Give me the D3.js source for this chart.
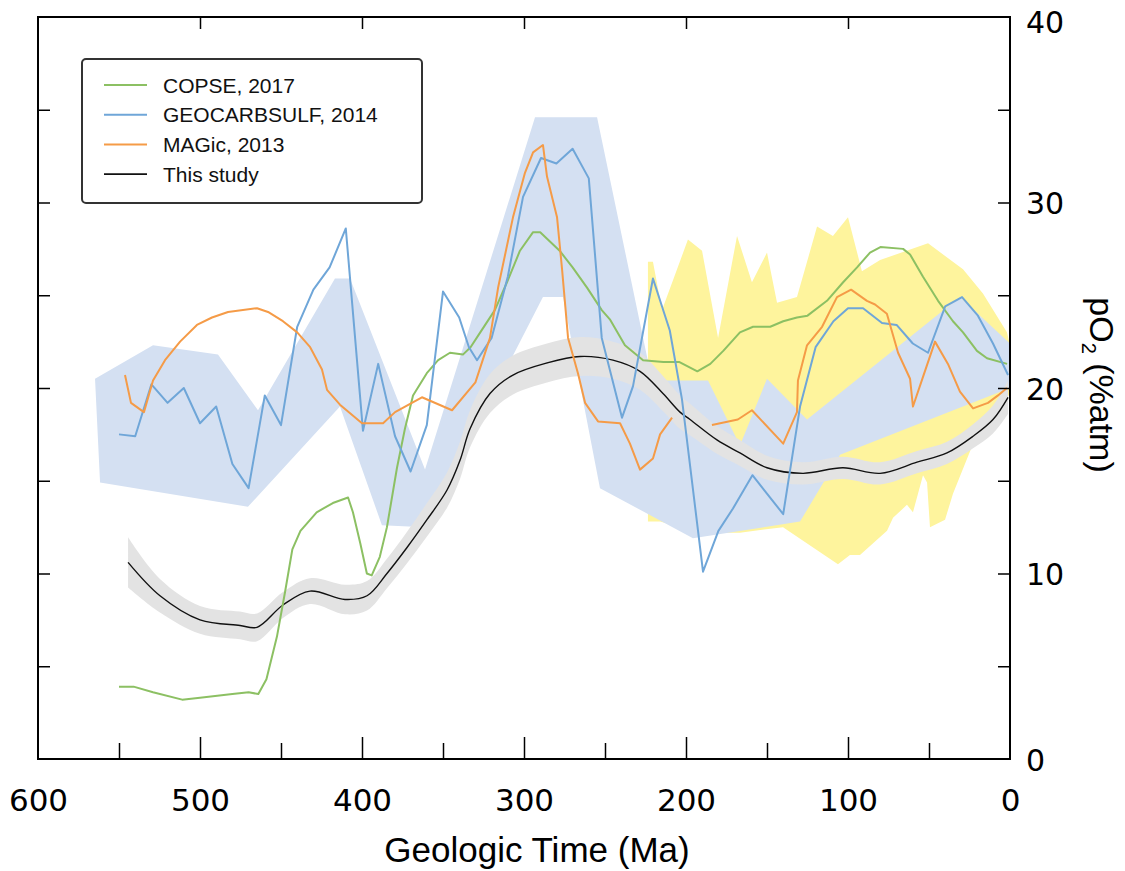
<!DOCTYPE html>
<html><head><meta charset="utf-8">
<script src="https://cdn.jsdelivr.net/npm/d3@7/dist/d3.min.js"></script>
<style>
html,body{margin:0;padding:0;background:#fff;}
svg{display:block;font-family:"Liberation Sans",Arial,Helvetica,sans-serif;}
</style></head>
<body>
<svg id="chart" width="1125" height="871"></svg>
<script>
// ---------- data (time in Ma, pO2 in %atm) ----------
const xTickLabels = [600, 500, 400, 300, 200, 100, 0];
const xMinorTicks = [550, 450, 350, 250, 150, 50];
const yTickLabels = [0, 10, 20, 30, 40];
const yMinorTicks = [5, 15, 25, 35];
const legendLabels = ["COPSE, 2017", "GEOCARBSULF, 2014", "MAGic, 2013", "This study"];

const copse = [[550,3.9],[541,3.9],[529,3.6],[511,3.2],[500,3.3],[480,3.5],[470,3.6],[464,3.5],[459,4.3],[452.5,6.6],[447.5,9.0],[443,11.3],[438,12.3],[428,13.3],[418,13.8],[408.6,14.1],[405.6,13.3],[401,11.6],[397,10.0],[394,9.9],[389,10.9],[384.6,12.5],[378.4,15.7],[373.5,17.8],[368.5,19.6],[360,20.8],[353,21.5],[345.7,21.9],[337.7,21.8],[333,22.2],[327,23.0],[318,24.2],[310.5,25.7],[302.5,27.4],[294.4,28.4],[290,28.4],[278,27.4],[270,26.5],[261,25.4],[252,24.2],[247,23.7],[237.7,22.3],[226.5,21.5],[214,21.4],[204,21.4],[193,20.9],[185,21.3],[177,22.0],[166.7,23.0],[158.6,23.3],[148,23.3],[140,23.6],[131.5,23.8],[125,23.9],[113,24.7],[103,25.7],[94.4,26.5],[86.4,27.3],[80,27.6],[66,27.5],[61.7,27.2],[53.7,26.0],[44.4,24.7],[35.2,23.6],[29,23.0],[20.4,22.0],[14.2,21.6],[1.8,21.3]];

const geocarb = [[550,17.5],[540,17.4],[530,20.2],[520,19.2],[510,20.0],[500,18.1],[490,19.0],[480,15.9],[470,14.6],[460,19.6],[450,18.0],[440,23.3],[430,25.3],[420,26.5],[410,28.6],[399.4,17.7],[390,21.3],[379.6,17.4],[370,15.5],[360,18.0],[350,25.2],[340,23.8],[334,22.2],[329,21.5],[320,22.7],[310,26.0],[300.6,30.3],[289.5,32.4],[280,32.1],[270,32.9],[260,31.3],[252,22.7],[239.5,18.4],[232.7,20.1],[220.4,25.9],[210,23.1],[202.5,19.4],[189.5,10.1],[180,12.3],[171,13.5],[159,15.3],[140,13.2],[129.6,19.0],[120,22.2],[109,23.6],[100,24.3],[90.7,24.3],[79,23.5],[70,23.4],[60,22.4],[50.6,21.9],[40,24.4],[29.6,24.9],[19.8,23.9],[10.5,22.4],[1.2,20.7]];

const magic = [[546.3,20.7],[542.6,19.2],[534.6,18.7],[529,20.4],[521.6,21.5],[512.3,22.5],[501.9,23.4],[492.6,23.8],[482.7,24.1],[464.8,24.3],[458,24.1],[448.8,23.6],[440,23.0],[432,22.2],[424.7,21.0],[421.6,19.9],[413.6,19.1],[400,18.1],[387,18.1],[379.6,18.7],[363,19.5],[344.4,18.8],[330,20.3],[321,22.7],[316,25.4],[306.8,29.2],[299.4,31.6],[294.4,32.7],[288.3,33.1],[285.8,31.4],[279.6,29.2],[276.5,26.4],[272.8,22.7],[266.7,20.8],[262.3,19.2],[254.3,18.2],[240.7,18.1],[234.6,17.0],[228.4,15.6],[220.4,16.2],[216,17.5],[208.6,18.4],[null,null],[184,18.0],[168,18.3],[159.3,18.8],[140,17.0],[131.5,18.7],[130.9,20.4],[125.3,22.3],[116,23.3],[106.8,24.9],[98.1,25.3],[88.3,24.7],[83.3,24.5],[76,24.0],[69.1,21.9],[61.7,20.5],[59.9,19.0],[53.7,20.6],[46.3,22.5],[38.3,21.3],[30.9,19.8],[22.8,18.9],[13.6,19.2],[7.4,19.6],[1.9,20.0]];

// This study: [time, pO2, half-width of uncertainty]
const study = [[544.4,10.6,1.35],[524.7,8.8,0.9],[500,7.5,0.75],[475.3,7.2,0.75],[464.8,7.1,0.75],[448.8,8.3,0.7],[432.1,9.05,0.7],[410.5,8.6,0.8],[396.9,8.8,0.8],[384.6,10.0,0.8],[372.2,11.4,0.85],[359.9,12.9,0.9],[347.5,14.5,0.95],[339.5,16.1,1.0],[333.3,17.8,1.0],[321,19.7,1.05],[306.8,20.7,1.05],[285.8,21.35,1.05],[265.4,21.7,1.05],[245.1,21.5,1.0],[228.4,20.9,1.0],[214.2,19.7,0.95],[203.7,18.7,0.9],[197.5,18.3,0.85],[180.9,17.2,0.75],[166.7,16.5,0.7],[150,15.7,0.65],[127.8,15.4,0.6],[103.1,15.7,0.6],[80.2,15.4,0.6],[57.4,16.0,0.6],[38.9,16.5,0.6],[22.8,17.4,0.65],[10.5,18.3,0.75],[1.2,19.5,0.9]];

// GEOCARBSULF uncertainty envelope (outline vertices)
const geocarbBand = [[564.8,20.5],[529,22.3],[488.9,21.8],[464.2,18.8],[416.7,25.9],[407.4,25.9],[361.1,15.6],[293.2,34.6],[254.9,34.6],[221,20.4],[186.4,20.4],[166.7,16.9],[150,20.5],[125.3,18.3],[30.9,24.9],[0,22.4],[0,20.0],[104.9,16.4],[129.6,12.8],[195.7,11.9],[253.1,14.6],[275.9,24.9],[288.3,24.9],[361.1,12.5],[387.7,12.6],[413.6,19.0],[470.4,13.6],[561.7,14.9]];

// MAGic uncertainty envelope (outline vertices)
const magicBand = [[223.5,26.8],[220.4,26.8],[214.8,24.2],[198.8,28.0],[190.1,27.4],[180.2,22.7],[168.5,28.2],[159.3,25.7],[150,27.3],[143.8,24.6],[131.5,24.9],[119.1,28.7],[109.3,28.2],[100,29.2],[91.4,26.3],[80.2,26.9],[50.6,27.8],[29,26.4],[16.7,25.1],[1.9,23.0],[0,22.3],[0,19.7],[22.8,17.0],[35.2,14.3],[40.1,12.9],[49.4,12.5],[51.2,14.9],[53.7,15.3],[59.9,13.3],[63.6,13.7],[72.2,13.0],[75.9,12.3],[92.6,11.0],[98.8,11.0],[106.2,10.5],[140.1,12.5],[166.7,12.2],[191.4,12.2],[216,12.8],[223.5,12.8]];

// ---------- drawing ----------
const svg = d3.select("#chart");
const L = 38, R = 1010, T = 17, B = 759;
const x = d3.scaleLinear().domain([600, 0]).range([L, R]);
const y = d3.scaleLinear().domain([0, 40]).range([B, T]);

const colors = {copse: "#8cc063", geocarb: "#6fa6d8", magic: "#f59b47", study: "#111111"};
const numFont = "DejaVu Sans, Verdana, sans-serif";

const poly = d3.line().x(d => x(d[0])).y(d => y(d[1]));

svg.append("path").attr("d", poly(magicBand) + "Z").attr("fill", "#fef49d");
svg.append("path").attr("d", poly(geocarbBand) + "Z").attr("fill", "#d4e0f2");

const band = d3.area()
  .x(d => x(d[0])).y0(d => y(d[1] - d[2])).y1(d => y(d[1] + d[2]))
  .curve(d3.curveCatmullRom.alpha(0.5));
svg.append("path").attr("d", band(study)).attr("fill", "#e3e3e3");

const smooth = d3.line().x(d => x(d[0])).y(d => y(d[1])).curve(d3.curveCatmullRom.alpha(0.5));
svg.append("path").attr("d", smooth(study)).attr("fill", "none")
  .attr("stroke", colors.study).attr("stroke-width", 1.4);

const lin = d3.line().defined(d => d[0] !== null).x(d => x(d[0])).y(d => y(d[1]));
svg.append("path").attr("d", lin(copse)).attr("fill", "none").attr("stroke", colors.copse).attr("stroke-width", 2).attr("stroke-linejoin", "round");
svg.append("path").attr("d", lin(geocarb)).attr("fill", "none").attr("stroke", colors.geocarb).attr("stroke-width", 2).attr("stroke-linejoin", "round");
svg.append("path").attr("d", lin(magic)).attr("fill", "none").attr("stroke", colors.magic).attr("stroke-width", 2).attr("stroke-linejoin", "round");

// frame
svg.append("rect").attr("x", L).attr("y", T).attr("width", R - L).attr("height", B - T)
  .attr("fill", "none").attr("stroke", "#000").attr("stroke-width", 2);

// bottom axis (ticks inward)
const axBottom = svg.append("g").attr("transform", `translate(0,${B})`)
  .call(d3.axisBottom(x).tickValues(xTickLabels).tickSize(-22).tickPadding(30).tickFormat(d3.format("d")));
axBottom.select(".domain").remove();
axBottom.selectAll(".tick line").attr("stroke-width", 1.5);
axBottom.selectAll(".tick text").attr("font-size", 31).attr("font-family", numFont).attr("fill", "#000");
axBottom.selectAll(".tick").filter(d => d === 600 || d === 0).select("line").remove();
const axBottomMinor = svg.append("g").attr("transform", `translate(0,${B})`)
  .call(d3.axisBottom(x).tickValues(xMinorTicks).tickSize(-16).tickFormat(""));
axBottomMinor.select(".domain").remove();
axBottomMinor.selectAll(".tick line").attr("stroke-width", 1.5);

// top axis ticks
const axTop = svg.append("g").attr("transform", `translate(0,${T})`)
  .call(d3.axisTop(x).tickValues([500, 400, 300, 200, 100]).tickSize(-12).tickFormat(""));
axTop.select(".domain").remove();
axTop.selectAll(".tick line").attr("stroke-width", 1.5);

// left axis ticks
const axLeft = svg.append("g").attr("transform", `translate(${L},0)`)
  .call(d3.axisLeft(y).tickValues([5, 10, 15, 20, 25, 30, 35]).tickSize(-12).tickFormat(""));
axLeft.select(".domain").remove();
axLeft.selectAll(".tick line").attr("stroke-width", 1.5);

// right axis
const axRight = svg.append("g").attr("transform", `translate(${R},0)`)
  .call(d3.axisRight(y).tickValues(yTickLabels).tickSize(-12).tickPadding(16).tickFormat(d3.format("d")));
axRight.select(".domain").remove();
axRight.selectAll(".tick line").attr("stroke-width", 1.5);
axRight.selectAll(".tick").filter(d => d === 0 || d === 40).select("line").remove();
axRight.selectAll(".tick text").attr("font-size", 30).attr("font-family", numFont).attr("fill", "#000")
  .attr("dy", d => d === 40 ? "0.5em" : "0.38em");
const axRightMinor = svg.append("g").attr("transform", `translate(${R},0)`)
  .call(d3.axisRight(y).tickValues(yMinorTicks).tickSize(-12).tickFormat(""));
axRightMinor.select(".domain").remove();
axRightMinor.selectAll(".tick line").attr("stroke-width", 1.5);

// axis titles
svg.append("text").attr("x", 537).attr("y", 862).attr("text-anchor", "middle")
  .attr("font-size", 35).text("Geologic Time (Ma)");

const yl = svg.append("text").attr("transform", "translate(1090,385) rotate(90)")
  .attr("text-anchor", "middle").attr("font-size", 34);
yl.append("tspan").text("pO");
yl.append("tspan").attr("font-size", 20).attr("dy", 8).text("2");
yl.append("tspan").attr("dy", -8).text(" (%atm)");

// legend
const lg = svg.append("g");
lg.append("rect").attr("x", 82).attr("y", 59).attr("width", 340).attr("height", 144).attr("rx", 4)
  .attr("fill", "#fff").attr("stroke", "#333").attr("stroke-width", 2);
const legendColors = [colors.copse, colors.geocarb, colors.magic, colors.study];
legendLabels.forEach((lab, i) => {
  const yy = 85 + i * 29.7;
  lg.append("line").attr("x1", 104).attr("x2", 147).attr("y1", yy).attr("y2", yy)
    .attr("stroke", legendColors[i]).attr("stroke-width", i === 3 ? 1.6 : 2);
  lg.append("text").attr("x", 163).attr("y", yy + 7.5).attr("font-size", 21).attr("fill", "#111").text(lab);
});
</script>
</body></html>
